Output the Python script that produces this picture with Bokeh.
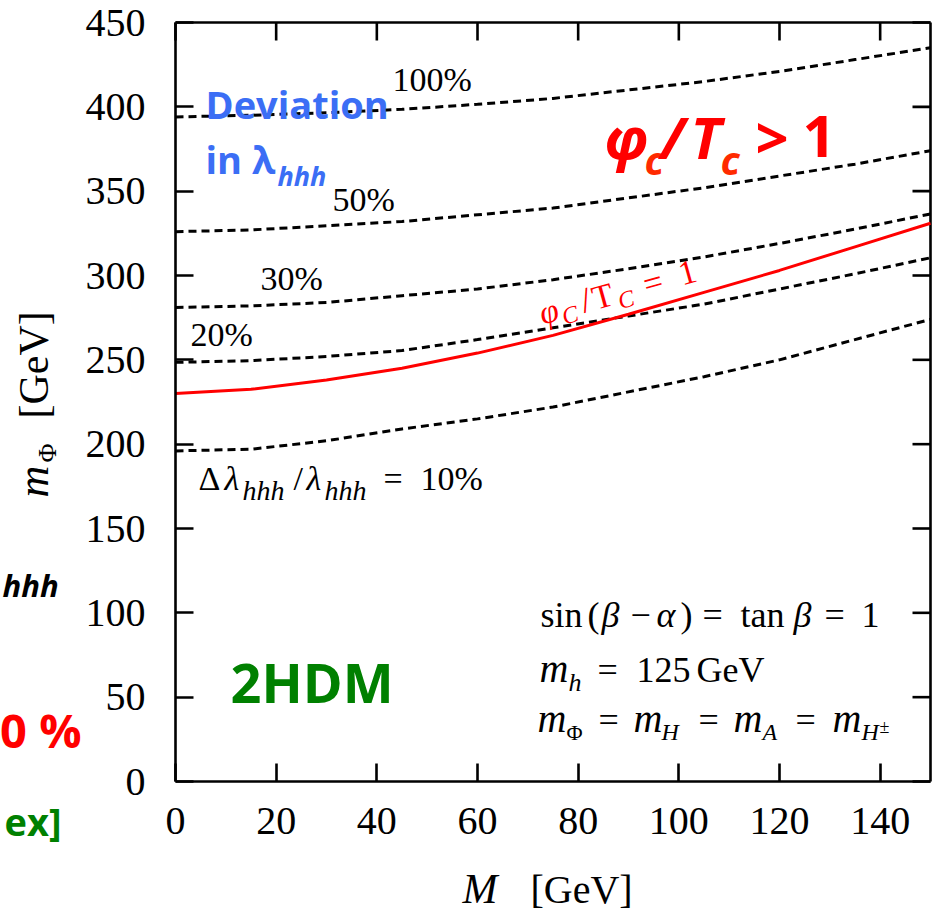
import math
from bokeh.plotting import figure
from bokeh.models import Label, FixedTicker, Range1d
from bokeh.embed import file_html
from bokeh.resources import INLINE

# ---- data ----
M_vals = [0, 15, 30, 45, 60, 75, 90, 105, 120, 135, 150]
dev10 = [196, 197, 202, 209, 215, 222, 231, 240, 250, 262, 274]
dev20 = [248.5, 249.5, 252, 255.5, 262, 269, 276, 283, 292, 301, 310.5]
dev30 = [281, 282, 284, 288, 292, 297.5, 304, 311, 319, 327.5, 336.5]
dev50 = [326, 327, 329.5, 332, 336, 340, 346, 352, 359, 366, 374]
dev100 = [394, 395, 396.5, 398.5, 401.5, 405, 410, 415, 421, 428, 435]
phi_tc_1 = [230, 232.5, 238, 245, 254, 264.5, 277, 290, 303, 317, 331]
x_ticks = [0, 20, 40, 60, 80, 100, 120, 140]
y_ticks = [0, 50, 100, 150, 200, 250, 300, 350, 400, 450]

W, H = 932, 914
FL, FR, FT, FB = 175, 930, 22, 781  # plot box edges in page pixels
XMAX, YMAX = 150, 450
KX = (FR - FL) / XMAX
KY = (FB - FT) / YMAX
TICK = 18  # px, inward

p = figure(width=W, height=H,
           x_range=Range1d(-FL / KX, XMAX + (W - FR) / KX),
           y_range=Range1d(-(H - FB) / KY, YMAX + FT / KY),
           output_backend="svg", toolbar_location=None,
           min_border=0, min_border_left=0, min_border_right=0,
           min_border_top=0, min_border_bottom=0)
p.grid.visible = False
p.background_fill_color = "white"
p.border_fill_color = "white"
p.outline_line_color = None

SERIF = "Liberation Serif"
SANS = "Open Sans"

def style_axis(ax, ticks, bounds, loc, standoff):
    ax.ticker = FixedTicker(ticks=ticks)
    ax.fixed_location = loc
    ax.bounds = bounds
    ax.axis_line_color = "black"
    ax.axis_line_width = 2.6
    ax.major_tick_in = TICK
    ax.major_tick_out = 0
    ax.major_tick_line_width = 2.6
    ax.major_tick_line_color = "black"
    ax.minor_tick_line_color = None
    ax.axis_label = None
    ax.major_label_text_font = SERIF
    ax.major_label_text_font_size = "40px"
    ax.major_label_text_color = "black"
    ax.major_label_standoff = standoff

style_axis(p.xaxis[0], x_ticks, (0, XMAX), 0, 26)
style_axis(p.yaxis[0], y_ticks, (0, YMAX), 0, 30)

# top and right frame edges with inward ticks (mirror of the axes)
p.line([0, XMAX], [YMAX, YMAX], line_color="black", line_width=2.6)
p.line([XMAX, XMAX], [0, YMAX], line_color="black", line_width=2.6)
p.segment(x0=x_ticks, y0=[YMAX] * len(x_ticks), x1=x_ticks,
          y1=[YMAX - TICK / KY] * len(x_ticks), line_color="black", line_width=2.6)
p.segment(x0=[XMAX] * len(y_ticks), y0=y_ticks, x1=[XMAX - TICK / KX] * len(y_ticks),
          y1=y_ticks, line_color="black", line_width=2.6)

# ---- curves ----
for ys in [dev10, dev20, dev30, dev50, dev100]:
    p.line(M_vals, ys, line_color="black", line_width=3, line_dash="8 5")
p.line(M_vals, phi_tc_1, line_color="#ff0000", line_width=3)

# ---- text helpers (page pixels -> data) ----
def dx(px):
    return (px - FL) / KX

def dy(py):
    return (FB - py) / KY

def T(px, py, text, size, font=SERIF, style="normal", color="black", align="left", angle=0.0):
    c = 0.42 if font == SERIF else 0.44
    ax = px - c * size * math.sin(angle)
    ay = py - c * size * math.cos(angle)
    p.add_layout(Label(x=dx(ax), y=dy(ay), text=text, text_font=font,
                       text_font_size=f"{size}px", text_font_style=style,
                       text_color=color, text_align=align, text_baseline="alphabetic",
                       angle=angle))

# curve labels
T(392, 93, "100%", 34)
T(332, 213, "50%", 34)
T(260, 292, "30%", 34)
T(190, 348, "20%", 34)

# Δλ_hhh/λ_hhh = 10%
T(198, 492, "Δ", 34)
T(224, 492, "λ", 34, style="italic")
T(242, 502, "hhh", 28, style="italic")
T(293, 492, "/", 34)
T(306, 492, "λ", 34, style="italic")
T(324, 502, "hhh", 28, style="italic")
T(383, 492, "=", 34)
T(420, 492, "10%", 34)

# rotated φ_C/T_C = 1
th = math.radians(15.5)
bx, by = 543, 327
def R(d, s, text, size, style="normal"):
    px = bx + d * math.cos(th) + s * math.sin(th)
    py = by - d * math.sin(th) + s * math.cos(th)
    T(px, py, text, size, style=style, color="#ff0000", angle=th)
R(0, 0, "φ", 34, "italic")
R(21, 5, "C", 24, "italic")
R(43, 0, "/", 36)
R(55, 0, "T", 34)
R(79, 5, "C", 24, "italic")
R(108, 0, "=", 34)
R(145, 0, "1", 34)

# right-side formulas
T(540, 630, "sin", 36)
T(587, 630, "(", 36)
T(601, 630, "β", 36, style="italic")
T(630, 630, "−", 36)
T(656, 630, "α", 36, style="italic")
T(680, 630, ")", 36)
T(702, 630, "=", 36)
T(740, 630, "tan", 36)
T(793, 630, "β", 36, style="italic")
T(824, 630, "=", 36)
T(861, 630, "1", 36)

T(539, 685, "m", 40, style="italic")
T(568, 693, "h", 26, style="italic")
T(597, 685, "=", 36)
T(636, 685, "125", 36)
T(696, 685, "GeV", 36)

T(537, 735, "m", 40, style="italic")
T(566, 741, "Φ", 22)
T(598, 735, "=", 36)
T(633, 735, "m", 40, style="italic")
T(661, 742, "H", 24, style="italic")
T(698, 735, "=", 36)
T(733, 735, "m", 40, style="italic")
T(762, 742, "A", 24, style="italic")
T(795, 735, "=", 36)
T(832, 735, "m", 40, style="italic")
T(861, 742, "H", 24, style="italic")
T(879, 734, "±", 18)

# axis titles
T(462, 906, "M", 42, style="italic")
T(530, 906, "[GeV]", 40)
T(51, 497, "m", 44, style="italic", angle=math.pi / 2)
T(58, 462, "Φ", 26, angle=math.pi / 2)
T(51, 418, "[GeV]", 42, angle=math.pi / 2)

# slide overlays
BLUE = "#3b6ef5"
T(205, 120, "Deviation", 38, font=SANS, style="bold", color=BLUE)
T(205, 175, "in λ", 38, font=SANS, style="bold", color=BLUE)
T(277, 187, "hhh", 27, font=SANS, style="bold italic", color=BLUE)

RED = "#ff0000"
T(604, 162, "φ", 58, font=SANS, style="bold italic", color=RED)
T(644, 177, "c", 40, font=SANS, style="bold italic", color="#ff2a00")
T(660, 162, "/", 58, font=SANS, style="bold italic", color=RED)
T(690, 162, "T", 58, font=SANS, style="bold italic", color=RED)
T(720, 177, "c", 40, font=SANS, style="bold italic", color="#ff2a00")
T(755, 162, ">", 58, font=SANS, style="bold", color=RED)
T(802, 162, "1", 58, font=SANS, style="bold", color=RED)

T(230, 705, "2HDM", 54, font=SANS, style="bold", color="#008000")

# slide text fragments at the left edge (the slide is cropped there)
T(2, 598, "hhh", 31, font=SANS, style="bold italic", color="black")
T(81, 750, "0 %", 47, font=SANS, style="bold", color=RED, align="right")
T(61, 837, "ex]", 38, font=SANS, style="bold", color="#008000", align="right")

open("out.html", "w").write(file_html(p, INLINE))
